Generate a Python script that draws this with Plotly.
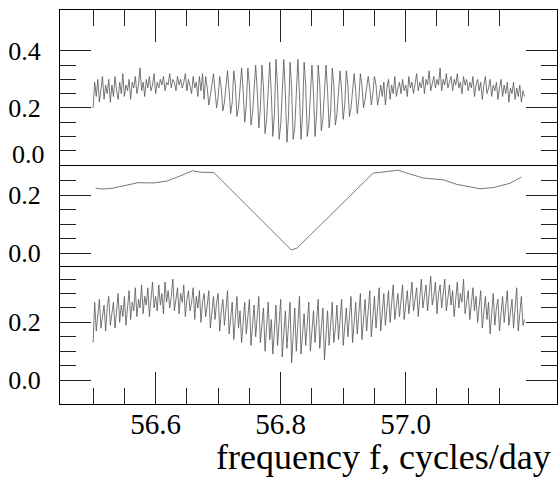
import plotly.graph_objects as go

# ---------------- data ----------------
FREQ_START = 56.5
FREQ_STEP = 0.0025

top_values = [
    0.20, 0.29, 0.24, 0.30, 0.22, 0.27, 0.31, 0.23, 0.28, 0.25, 0.30, 0.22,
    0.28, 0.24, 0.31, 0.26, 0.23, 0.29, 0.25, 0.32, 0.24, 0.28, 0.26, 0.30,
    0.23, 0.29, 0.27, 0.31, 0.25, 0.28, 0.34, 0.26, 0.29, 0.24, 0.30, 0.27,
    0.31, 0.26, 0.28, 0.32, 0.25, 0.29, 0.27, 0.30, 0.28, 0.31, 0.26, 0.29,
    0.28, 0.32, 0.27, 0.30, 0.29, 0.26, 0.31, 0.28, 0.30, 0.27, 0.29, 0.32,
    0.26, 0.30, 0.28, 0.25, 0.31, 0.27, 0.29, 0.24, 0.31, 0.26, 0.32, 0.23,
    0.31, 0.27, 0.21, 0.24, 0.28,
    0.32, 0.26, 0.20, 0.24,
    0.31, 0.27, 0.19, 0.22, 0.27,
    0.33, 0.26, 0.18, 0.22,
    0.33, 0.28, 0.17, 0.20, 0.26,
    0.34, 0.26, 0.15, 0.21,
    0.34, 0.28, 0.14, 0.18, 0.26,
    0.35, 0.26, 0.13, 0.20,
    0.35, 0.27, 0.11, 0.16, 0.25,
    0.36, 0.25, 0.10, 0.18,
    0.37, 0.27, 0.09, 0.14, 0.25,
    0.37, 0.25, 0.08, 0.17,
    0.36, 0.27, 0.09, 0.13, 0.24,
    0.37, 0.25, 0.09, 0.18,
    0.36, 0.28, 0.10, 0.14, 0.25,
    0.35, 0.25, 0.10, 0.18,
    0.35, 0.28, 0.12, 0.16, 0.26,
    0.35, 0.26, 0.13, 0.19,
    0.34, 0.28, 0.14, 0.18, 0.27,
    0.33, 0.26, 0.16, 0.21,
    0.33, 0.28, 0.17, 0.20, 0.27,
    0.32, 0.26, 0.18, 0.23,
    0.32, 0.28, 0.20, 0.23, 0.27,
    0.31, 0.27, 0.21, 0.25,
    0.31, 0.28, 0.21, 0.24, 0.28,
    0.24, 0.29, 0.21, 0.27, 0.30, 0.23, 0.28, 0.25, 0.31, 0.24, 0.27, 0.29,
    0.25, 0.30, 0.26, 0.28, 0.24, 0.31, 0.27, 0.29, 0.25, 0.28, 0.32, 0.26,
    0.29, 0.27, 0.31, 0.25, 0.30, 0.28, 0.33, 0.26, 0.29, 0.31, 0.27, 0.30,
    0.28, 0.34, 0.26, 0.30, 0.28, 0.32, 0.27, 0.29, 0.31, 0.26, 0.30, 0.28,
    0.32, 0.27, 0.29, 0.25, 0.31, 0.28, 0.30, 0.26, 0.29, 0.27, 0.31, 0.24,
    0.28, 0.30, 0.26, 0.29, 0.23, 0.28, 0.31, 0.25, 0.27, 0.30, 0.24, 0.28,
    0.26, 0.29, 0.23, 0.27, 0.30, 0.24, 0.28, 0.25, 0.29, 0.22, 0.27, 0.25,
    0.29, 0.23, 0.27, 0.24, 0.28, 0.22, 0.26, 0.24,
]

# middle panel: window / envelope curve
mid_freq = [56.504, 56.513, 56.529, 56.550, 56.572, 56.597, 56.619, 56.640,
            56.659, 56.672, 56.693, 56.817, 56.826, 56.948, 56.959, 56.988,
            57.002, 57.028, 57.060, 57.082, 57.119, 57.140, 57.167, 57.185]
mid_values = [0.224, 0.221, 0.223, 0.233, 0.243, 0.242, 0.249, 0.267,
              0.284, 0.279, 0.278, 0.011, 0.017, 0.276, 0.279, 0.286,
              0.276, 0.259, 0.253, 0.237, 0.222, 0.226, 0.241, 0.262]

# bottom panel: residual spectrum
bottom_values = [
    0.13, 0.27, 0.17, 0.24, 0.28, 0.18, 0.22, 0.26, 0.17, 0.25, 0.29, 0.19,
    0.23, 0.27, 0.18, 0.24, 0.30, 0.20, 0.26, 0.22, 0.29, 0.19, 0.25, 0.31,
    0.21, 0.27, 0.24, 0.32, 0.22, 0.28, 0.25, 0.33, 0.23, 0.29, 0.26, 0.32,
    0.22, 0.28, 0.34, 0.25, 0.29, 0.24, 0.33, 0.26, 0.30, 0.23, 0.34, 0.27,
    0.31, 0.25, 0.29, 0.35, 0.24, 0.28, 0.32, 0.23, 0.30, 0.27, 0.33, 0.22,
    0.28, 0.31, 0.24, 0.27, 0.32, 0.21, 0.29, 0.25, 0.31, 0.20, 0.27, 0.30,
    0.22, 0.26, 0.31, 0.18, 0.25, 0.29, 0.21, 0.27, 0.30, 0.17, 0.24, 0.28,
    0.19, 0.25, 0.31, 0.16, 0.22, 0.27, 0.14, 0.21, 0.29, 0.18, 0.24, 0.13,
    0.20, 0.27, 0.16, 0.23, 0.28, 0.12, 0.19, 0.26, 0.15, 0.22, 0.29, 0.13,
    0.18, 0.25, 0.10, 0.19, 0.27, 0.14, 0.21, 0.09, 0.17, 0.26, 0.12, 0.20,
    0.28, 0.08, 0.16, 0.24, 0.11, 0.19, 0.27, 0.06, 0.15, 0.25, 0.10, 0.20,
    0.29, 0.09, 0.17, 0.23, 0.12, 0.21, 0.27, 0.10, 0.18, 0.24, 0.13, 0.20,
    0.28, 0.11, 0.19, 0.25, 0.07, 0.17, 0.24, 0.12, 0.20, 0.27, 0.13, 0.18,
    0.26, 0.14, 0.21, 0.28, 0.12, 0.19, 0.25, 0.15, 0.22, 0.29, 0.13, 0.20,
    0.27, 0.16, 0.23, 0.30, 0.14, 0.21, 0.28, 0.17, 0.24, 0.31, 0.15, 0.22,
    0.29, 0.18, 0.25, 0.32, 0.17, 0.24, 0.30, 0.19, 0.26, 0.31, 0.20, 0.27,
    0.33, 0.21, 0.25, 0.30, 0.22, 0.28, 0.33, 0.21, 0.27, 0.31, 0.23, 0.29,
    0.34, 0.24, 0.28, 0.32, 0.22, 0.30, 0.35, 0.25, 0.29, 0.33, 0.24, 0.31,
    0.36, 0.26, 0.29, 0.34, 0.23, 0.30, 0.33, 0.25, 0.31, 0.35, 0.24, 0.29,
    0.33, 0.26, 0.31, 0.22, 0.29, 0.34, 0.25, 0.30, 0.27, 0.35, 0.23, 0.28,
    0.31, 0.21, 0.27, 0.32, 0.24, 0.29, 0.20, 0.26, 0.31, 0.18, 0.25, 0.29,
    0.21, 0.27, 0.16, 0.24, 0.30, 0.19, 0.25, 0.28, 0.17, 0.23, 0.29, 0.20,
    0.26, 0.31, 0.19, 0.24, 0.28, 0.18, 0.25, 0.32, 0.17, 0.23, 0.29, 0.19,
    0.21,
]

x_major_ticks = [56.6, 56.8, 57.0]
x_major_labels = ["56.6", "56.8", "57.0"]
x_minor_ticks = [56.5, 56.55, 56.65, 56.7, 56.75, 56.85, 56.9, 56.95,
                 57.05, 57.1, 57.15]
x_title = "frequency f, cycles/day"

top_y_ticks = [0.2, 0.4]
top_y_labels = ["0.2", "0.4"]
top_y_minor = [0.05, 0.1, 0.15, 0.25, 0.3, 0.35]
mid_y_ticks = [0.0, 0.2]
mid_y_labels = ["0.0", "0.2"]
mid_y_minor = [0.05, 0.1, 0.15, 0.25]
bot_y_ticks = [0.0, 0.2]
bot_y_labels = ["0.0", "0.2"]
bot_y_minor = [0.05, 0.1, 0.15, 0.25, 0.3, 0.35]

# --------------- figure ---------------
top_freq = [FREQ_START + FREQ_STEP * i for i in range(len(top_values))]
bot_freq = [FREQ_START + FREQ_STEP * i for i in range(len(bottom_values))]

LINE = dict(color="#555555", width=0.8)
FONT = "Liberation Serif"

fig = go.Figure()
fig.add_trace(go.Scatter(x=top_freq, y=top_values, mode="lines", line=LINE,
                         xaxis="x3", yaxis="y", showlegend=False,
                         hoverinfo="skip"))
fig.add_trace(go.Scatter(x=mid_freq, y=mid_values, mode="lines", line=LINE,
                         xaxis="x2", yaxis="y2", showlegend=False,
                         hoverinfo="skip"))
fig.add_trace(go.Scatter(x=bot_freq, y=bottom_values, mode="lines", line=LINE,
                         xaxis="x", yaxis="y3", showlegend=False,
                         hoverinfo="skip"))

XR = [56.447, 57.242]
common_x = dict(range=XR, showgrid=False, zeroline=False,
                linecolor="black", linewidth=1, mirror=True)

d_top = [0.6066, 1.0]
d_mid = [0.3477, 0.6066]
d_bot = [0.0, 0.3477]

def yaxis(domain, rng, tv, tt, minor, anchor):
    return dict(domain=domain, range=rng, anchor=anchor, showgrid=False,
                zeroline=False, showline=True, linecolor="black", linewidth=1,
                mirror="allticks", ticks="inside", ticklen=31, tickwidth=1,
                tickcolor="#222", tickmode="array", tickvals=tv, ticktext=tt,
                ticklabelstandoff=13,
                tickfont=dict(family=FONT, size=26, color="black"),
                minor=dict(tickmode="array", tickvals=minor, ticks="inside",
                           ticklen=16, tickwidth=1, tickcolor="#222",
                           showgrid=False))

fig.update_layout(
    width=558, height=477,
    margin=dict(l=60, r=1, t=10, b=73),
    paper_bgcolor="white", plot_bgcolor="white",
    xaxis=dict(**common_x, showline=True, anchor="y3", side="bottom",
               ticks="inside",
               ticklen=32, tickwidth=1, tickcolor="#222", tickmode="array",
               tickvals=x_major_ticks, ticktext=x_major_labels,
               ticklabelstandoff=-6,
               tickfont=dict(family=FONT, size=29, color="black"),
               minor=dict(tickmode="array", tickvals=x_minor_ticks,
                          ticks="inside", ticklen=16, tickwidth=1,
                          tickcolor="#222", showgrid=False)),
    xaxis2=dict(**common_x, showline=False, anchor="y2", matches="x",
                ticks="", showticklabels=False),
    xaxis3=dict(**common_x, showline=True, anchor="y", matches="x",
                side="top",
                ticks="inside", ticklen=32, tickwidth=1, tickcolor="#222",
                tickmode="array", tickvals=x_major_ticks,
                showticklabels=False,
                minor=dict(tickmode="array", tickvals=x_minor_ticks,
                           ticks="inside", ticklen=16, tickwidth=1,
                           tickcolor="#222", showgrid=False)),
    yaxis=yaxis(d_top, [0.0, 0.543], top_y_ticks, top_y_labels, top_y_minor, "x3"),
    yaxis2=yaxis(d_mid, [-0.048, 0.304], mid_y_ticks, mid_y_labels, mid_y_minor, "x2"),
    yaxis3=yaxis(d_bot, [-0.083, 0.392], bot_y_ticks, bot_y_labels, bot_y_minor, "x"),
)

fig.add_annotation(text="0.0", xref="paper", yref="y", x=0, y=0.037,
                   xanchor="right", yanchor="middle", xshift=-13,
                   showarrow=False,
                   font=dict(family=FONT, size=26, color="black"))
fig.add_annotation(text=x_title, xref="paper", yref="paper", x=0.65, y=0,
                   xanchor="center", yanchor="top", yshift=-31,
                   showarrow=False,
                   font=dict(family=FONT, size=36, color="black"))

fig.write_html(
    "out.html",
    config={"displayModeBar": False},
    post_script="document.body.style.margin='0';"
                "document.body.style.overflow='hidden';",
)
